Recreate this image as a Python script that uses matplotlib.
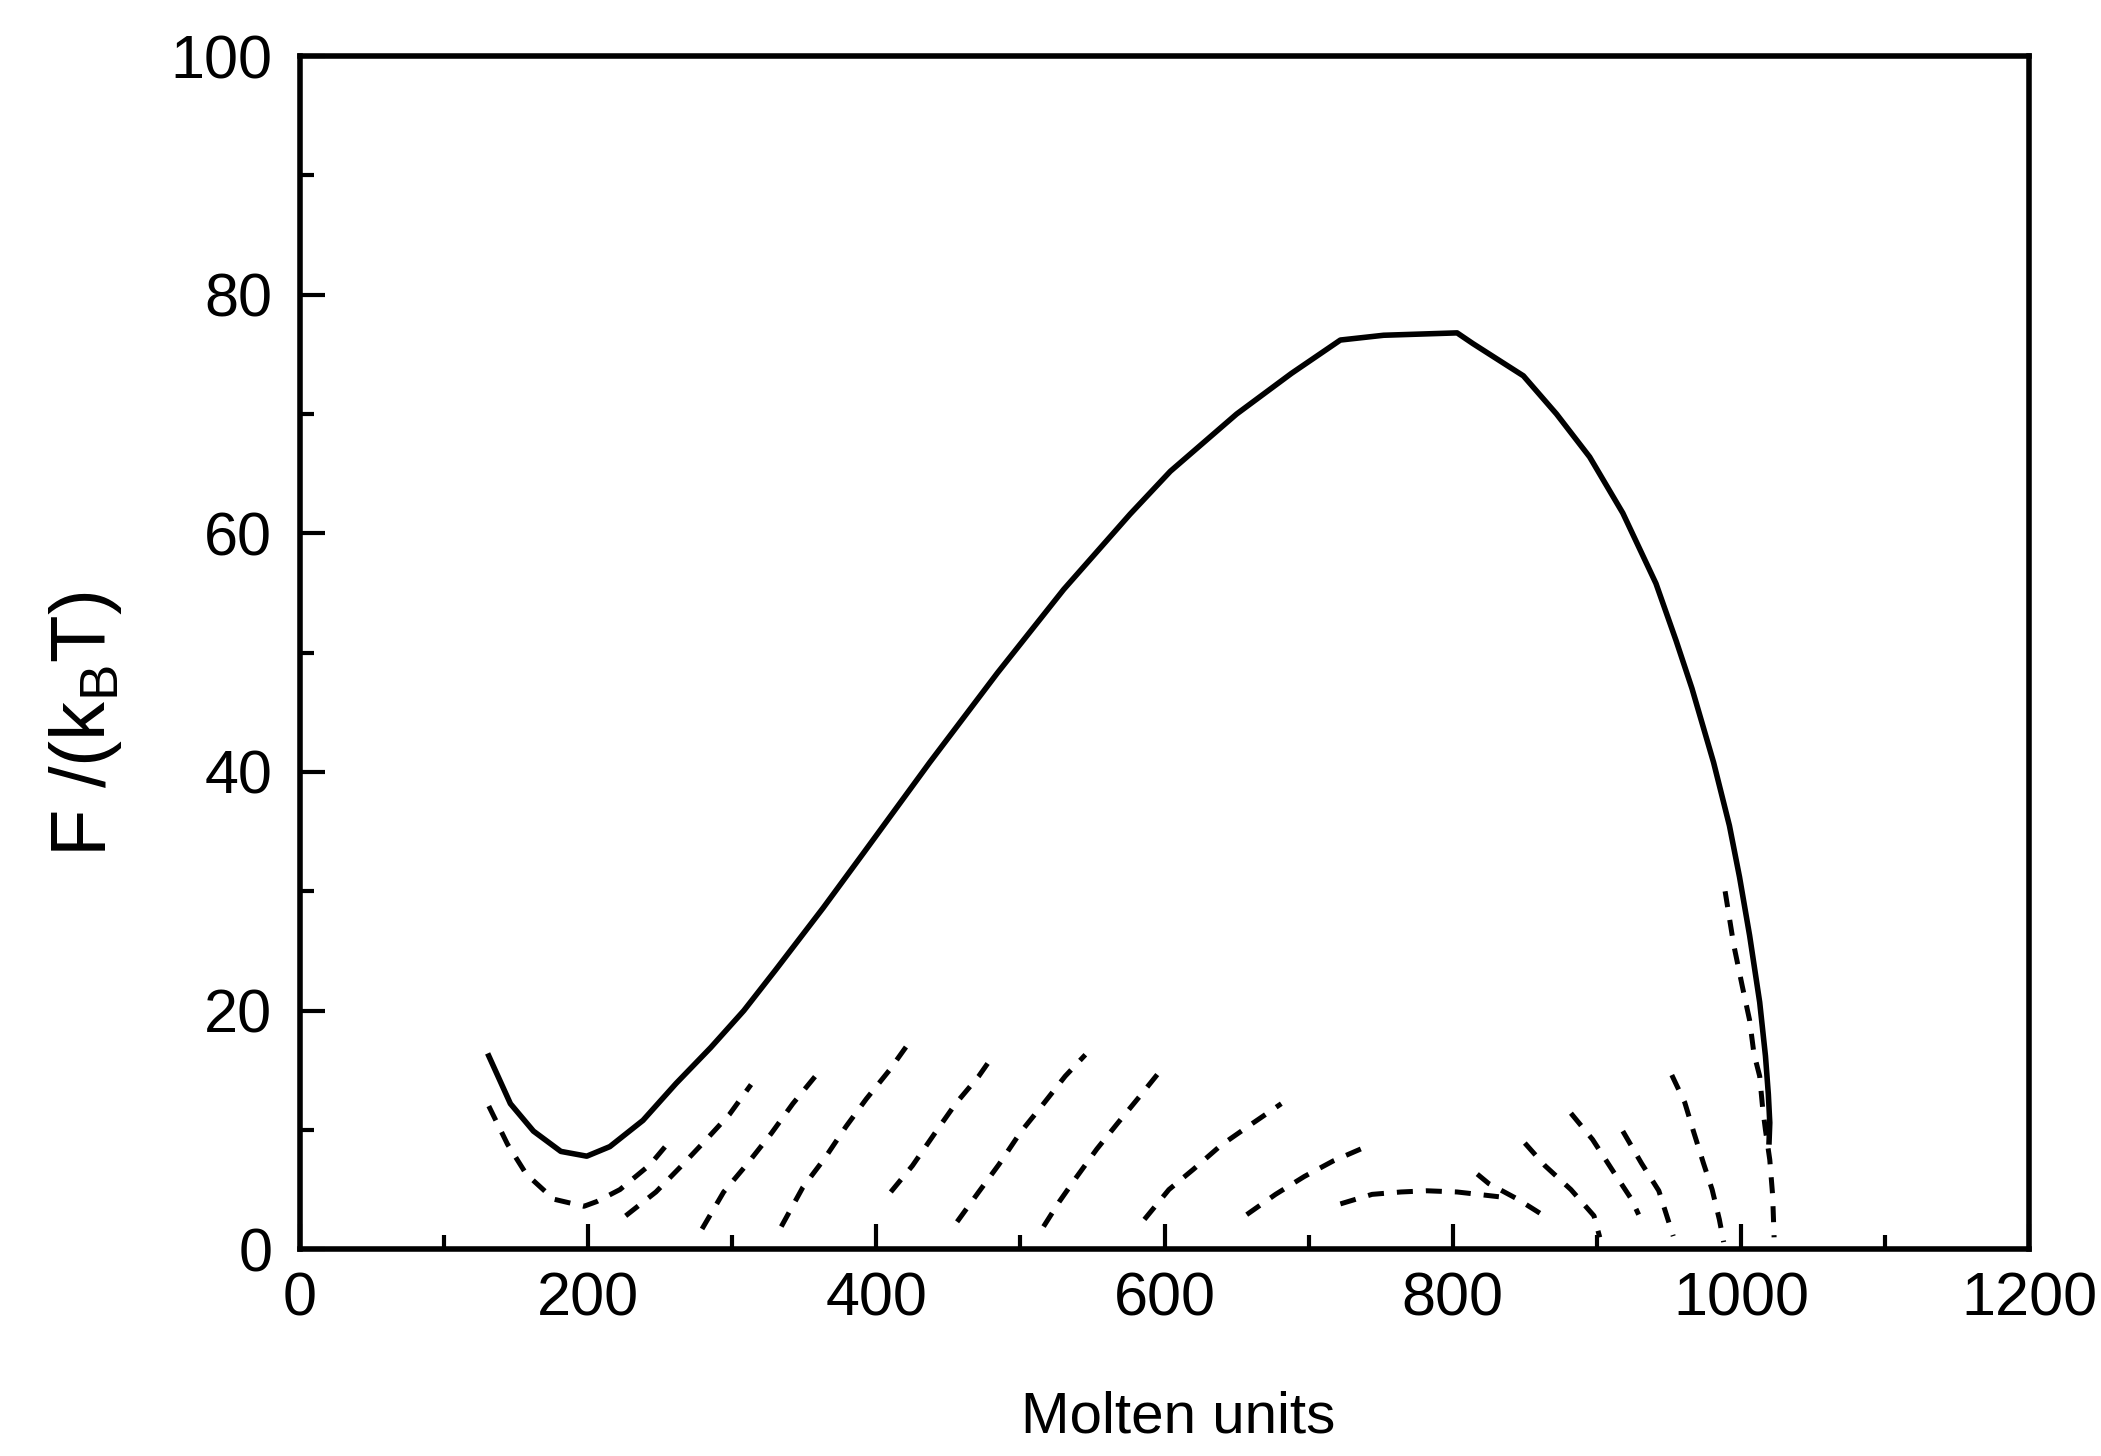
import numpy as np
import matplotlib.pyplot as plt

plt.rcParams['font.family'] = ['Liberation Sans', 'DejaVu Sans']

# solid free-energy profile
solid_x = [131, 146, 162, 181, 199, 215, 238, 261, 285, 308, 330, 363, 391, 437,
           484, 530, 576, 604, 650, 688, 722, 752, 803, 814, 849, 872, 895, 918,
           941, 955, 966, 981, 992, 999, 1006, 1013, 1017, 1019, 1020, 1019.5]
solid_y = [16.2, 12.2, 9.9, 8.2, 7.8, 8.6, 10.8, 13.9, 16.9, 20.0, 23.4, 28.6, 33.2,
           40.8, 48.3, 55.3, 61.6, 65.2, 70.0, 73.4, 76.2, 76.6, 76.8, 75.9, 73.2,
           70.0, 66.4, 61.7, 55.8, 51.0, 47.0, 40.8, 35.5, 31.2, 26.3, 20.7, 16.2,
           13.0, 10.6, 9.0]

# dashed segments (x, y)
dashed = [
    ([131, 144, 157, 176, 197, 206, 222, 243, 259], [12.0, 8.8, 6.3, 4.2, 3.6, 4.0, 5.0, 7.1, 9.4]),
    ([226, 247, 264, 282, 298, 313], [2.8, 4.8, 6.9, 9.2, 11.3, 13.8]),
    ([279, 294, 310, 327, 342, 361], [1.7, 4.8, 7.1, 9.7, 12.2, 15.0]),
    ([334, 349, 364, 379, 393, 409, 422], [1.9, 5.2, 7.6, 10.3, 12.6, 15.0, 17.2]),
    ([410, 425, 441, 455, 471, 482], [4.8, 7.0, 9.8, 12.2, 14.5, 16.4]),
    ([456, 471, 485, 500, 516, 531, 545], [2.3, 4.8, 7.1, 9.8, 12.2, 14.5, 16.3]),
    ([516, 527, 538, 553, 567, 584, 596], [1.9, 4.0, 5.9, 8.4, 10.5, 13.0, 14.8]),
    ([586, 603, 620, 639, 658, 681], [2.5, 5.0, 6.7, 8.7, 10.3, 12.2]),
    ([657, 677, 697, 717, 738], [2.9, 4.6, 6.1, 7.4, 8.5]),
    ([722, 744, 764, 782, 803, 832], [3.8, 4.6, 4.8, 4.9, 4.8, 4.4]),
    ([817, 825, 845, 866], [6.3, 5.5, 4.2, 2.6]),
    ([850, 864, 882, 898, 902], [8.9, 7.0, 5.0, 2.8, 1.0]),
    ([882, 897, 912, 924, 929], [11.4, 9.2, 6.4, 4.2, 2.9]),
    ([918, 931, 943, 953], [9.9, 7.2, 4.9, 1.1]),
    ([952, 961, 967, 974, 980, 985, 988], [14.6, 12.3, 9.9, 7.2, 5.0, 2.5, 0.6]),
    ([989, 995, 1001, 1006, 1009, 1013, 1015, 1017, 1020, 1022, 1023],
     [30.0, 25.5, 22.0, 19.2, 16.4, 14.5, 11.9, 10.0, 7.5, 4.5, 1.0]),
]

fig = plt.figure(figsize=(21.01, 14.56), dpi=100)
ax = fig.add_axes([0.1428, 0.142, 0.823, 0.8195])

ax.plot(solid_x, solid_y, color='black', lw=4, solid_joinstyle='round')
for xs, ys in dashed:
    ax.plot(xs, ys, color='black', lw=3.6, dashes=(3.2, 2.6))

ax.set_xlim(0, 1200)
ax.set_ylim(0, 100)
ax.set_xticks(np.arange(0, 1201, 200))
ax.set_yticks(np.arange(0, 101, 20))
ax.set_xticks(np.arange(100, 1200, 200), minor=True)
ax.set_yticks(np.arange(10, 100, 20), minor=True)

ax.tick_params(which='both', direction='in', top=False, right=False, width=3)
ax.tick_params(which='major', length=18, labelsize=44)
ax.tick_params(axis='x', which='major', pad=16)
ax.tick_params(axis='y', which='major', pad=20)
ax.tick_params(which='minor', length=10)
for s in ax.spines.values():
    s.set_linewidth(4)

ax.set_xlabel('Molten units', fontsize=42)
ax.set_ylabel(r'F /(k$_\mathregular{B}$T)', fontsize=56)
ax.xaxis.set_label_coords(0.508, -0.118)
ax.yaxis.set_label_coords(-0.102, 0.44)

fig.savefig('out.png', dpi=100)
